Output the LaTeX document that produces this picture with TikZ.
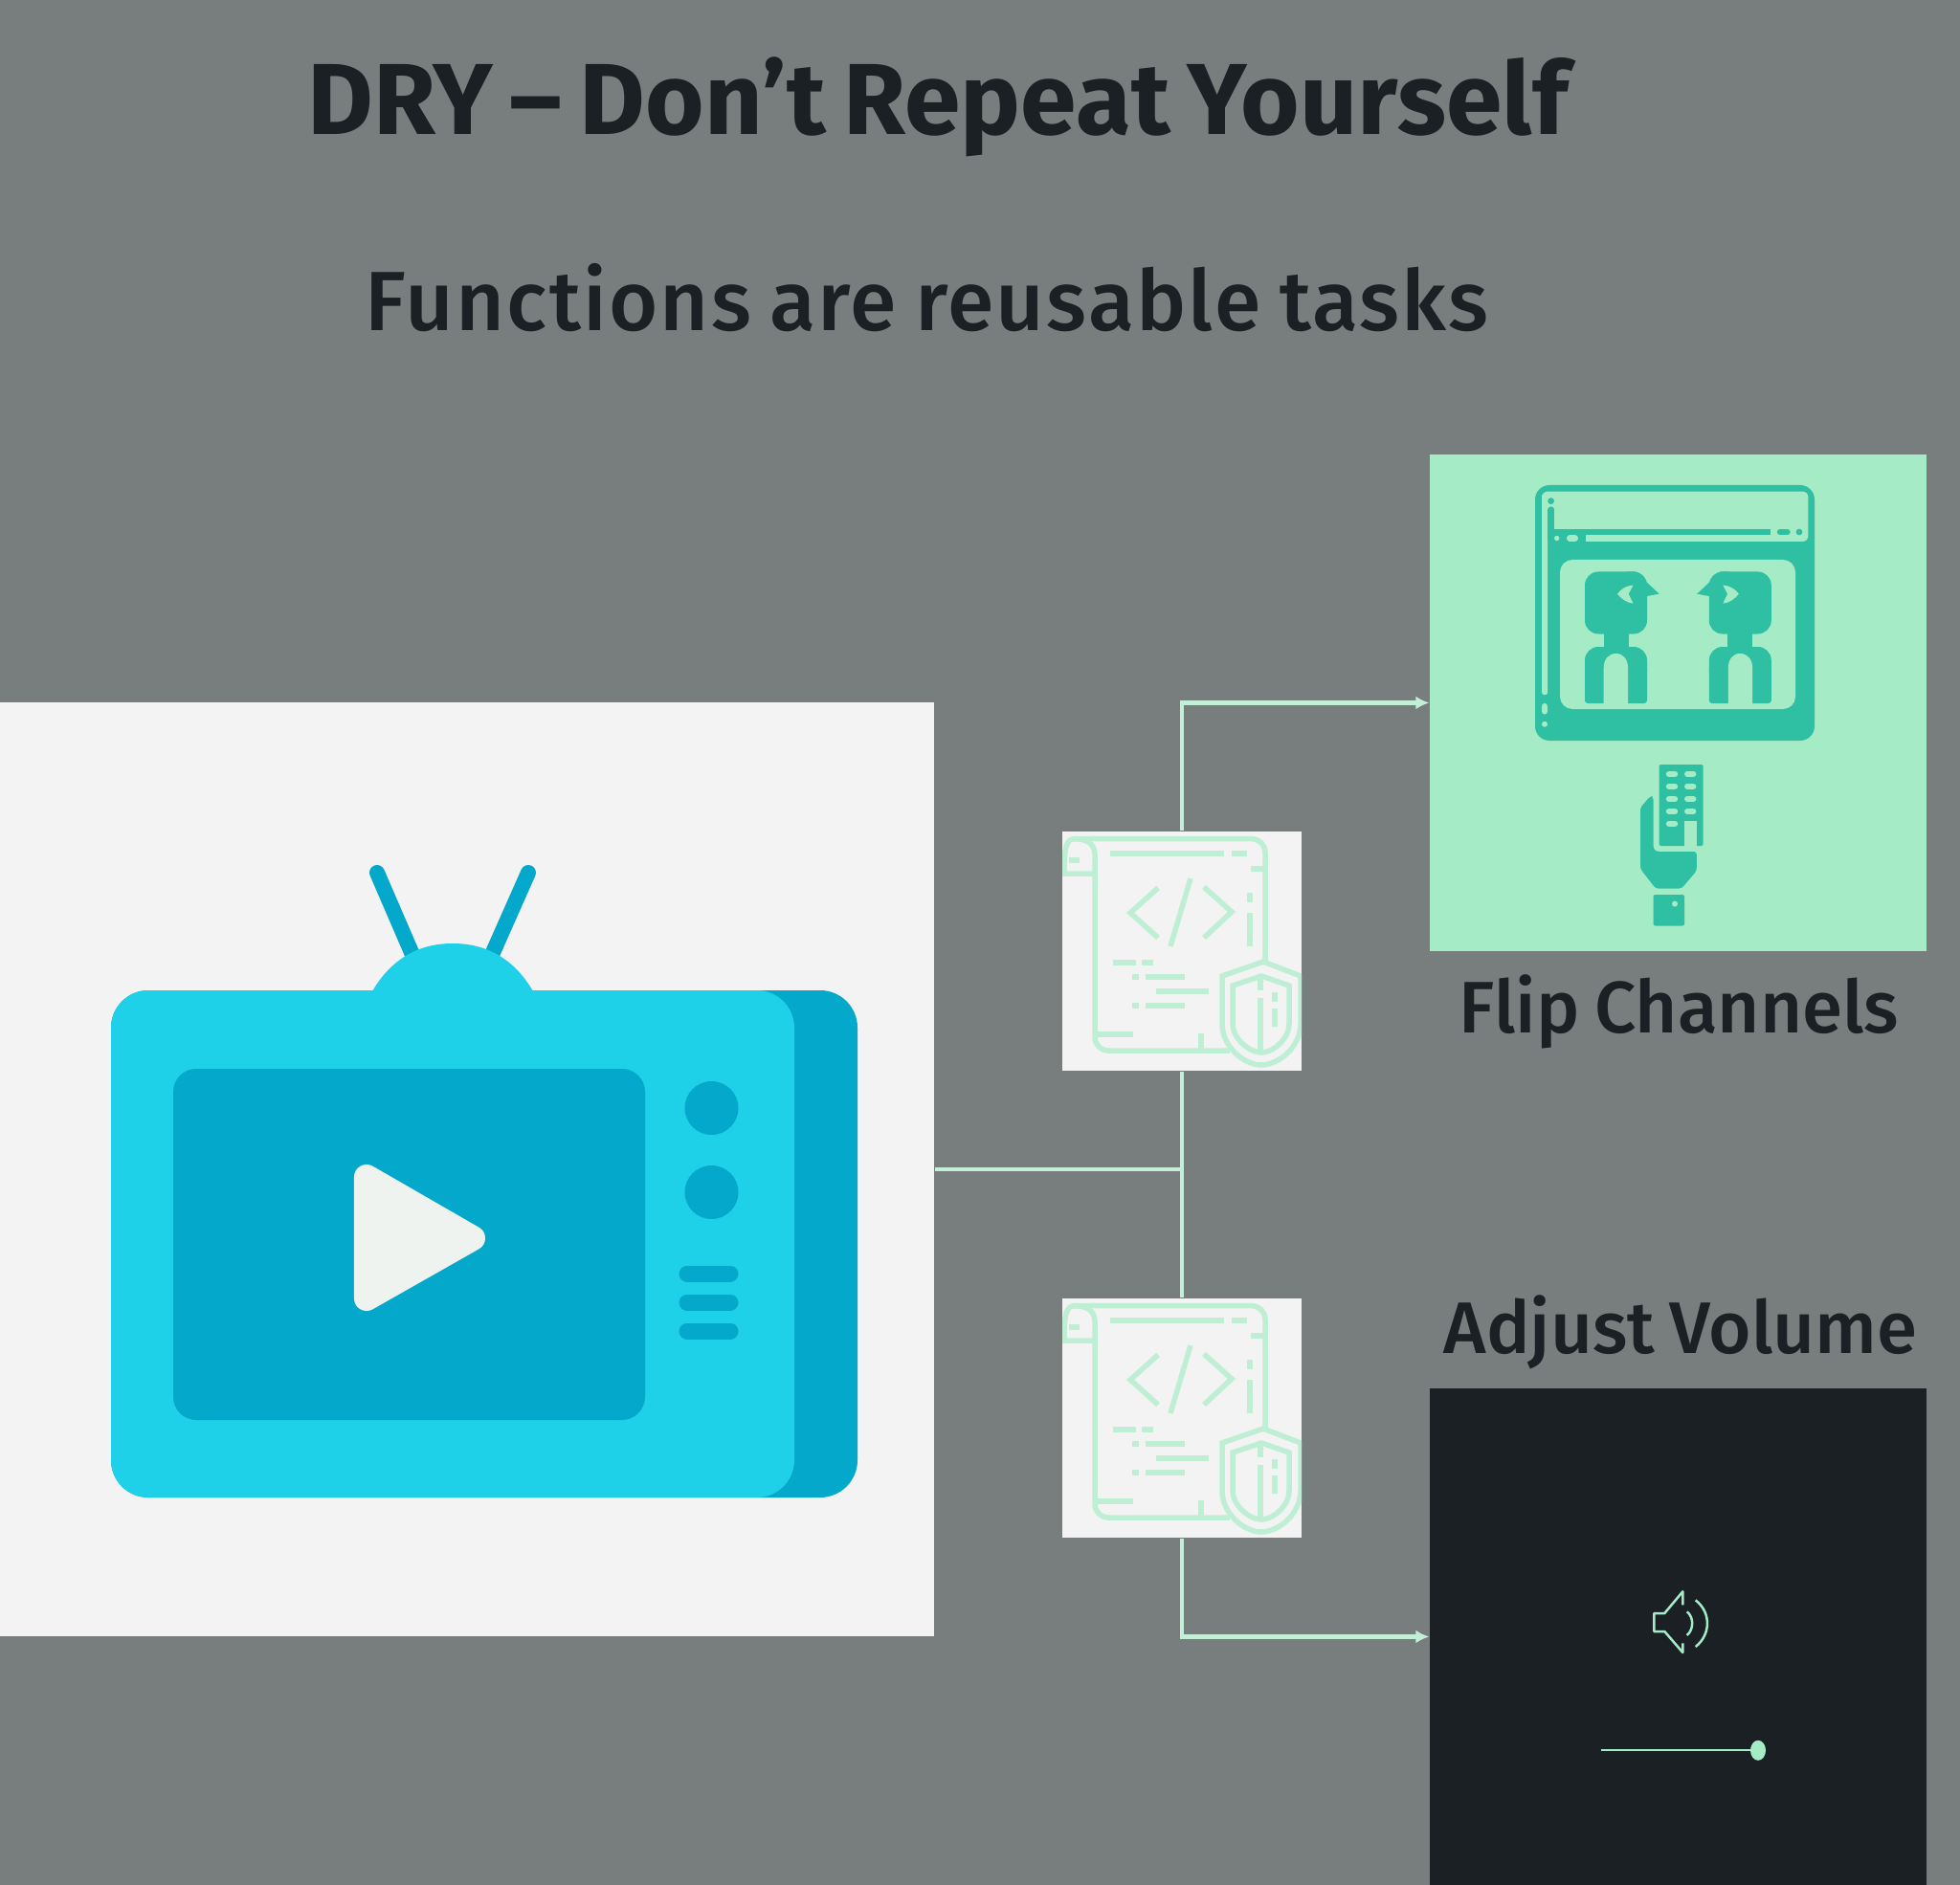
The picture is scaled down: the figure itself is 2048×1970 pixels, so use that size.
\documentclass[tikz,border=0pt]{standalone}
\usepackage{fontspec}
\setmainfont{Fira Sans}
\newfontfamily\titlefont[WordSpace=0.7,LetterSpace=0.2]{Fira Sans}
\newfontfamily\subfont[WordSpace=0.8,LetterSpace=2.5]{Fira Sans Medium}
\newfontfamily\labelfont[WordSpace=0.8]{Fira Sans Medium}
\usetikzlibrary{arrows.meta}
\definecolor{slategrey}{HTML}{787E7E}
\definecolor{paper}{HTML}{F3F3F3}
\definecolor{ink}{HTML}{1B2025}
\definecolor{mint}{HTML}{A5EBC5}
\definecolor{wire}{HTML}{C3EFD8}
\definecolor{sheetline}{HTML}{BEEFD5}
\definecolor{teal}{HTML}{2FC0A3}
\definecolor{skyfront}{HTML}{1ED0E8}
\definecolor{skyback}{HTML}{03A8CB}
\definecolor{playwhite}{HTML}{EEF3EF}
\tikzset{
	panel/.style={inner sep=0pt,minimum width=#1*0.01cm,minimum height=#1*0.01cm},
	wireline/.style={wire,line width=0.042cm},
	headline/.style={anchor=base west,inner sep=0pt,text=ink},
	sheetstroke/.style={sheetline,line width=0.055cm},
	slit/.style={skyback,line width=0.17cm,line cap=round},
	antenna/.style={skyback,line width=0.16cm,line cap=round},
	hole/.style={mint,line cap=round}
}
\begin{document}
\begin{tikzpicture}[x=0.01cm,y=-0.01cm]
	\useasboundingbox (0,0) rectangle (2048,1970);
	\fill[slategrey] (0,0) rectangle (2048,1970);
	% headings
	\node[headline] (title) at (321,141) {\titlefont\fontsize{30}{36}\selectfont\bfseries DRY – Don’t Repeat Yourself};
	\node[headline] (subtitle) at (381,346) {\subfont\fontsize{25}{30}\selectfont Functions are reusable tasks};
	% panels
	\node[panel=976,fill=paper] (tvbox) at (488,1222) {};
	\node[panel=250,fill=paper] (codeA) at (1235,994) {};
	\node[panel=250,fill=paper] (codeB) at (1235,1482) {};
	\node[panel=519,fill=mint] (flipbox) at (1753.5,734.5) {};
	\node[panel=519,fill=ink] (volbox) at (1753.5,1710.5) {};
	\node[headline] (fliptext) at (1524,1079) {\labelfont\fontsize{21.7}{28}\selectfont Flip Channels};
	\node[headline] (voltext) at (1508,1414) {\labelfont\fontsize{21.7}{28}\selectfont Adjust Volume};
	% connectors
	\coordinate (hub) at (codeA |- tvbox);
	\draw[wireline] (tvbox.east) -- (hub);
	\draw[wireline] (codeA) -- (codeB);
	\draw[wireline,-{Latex[length=0.14cm,width=0.14cm]}] (codeA.north) |- (flipbox.west);
	\draw[wireline,-{Latex[length=0.14cm,width=0.14cm]}] (codeB.south) |- (volbox.west);
	% tv set
	\fill[skyback,rounded corners=0.39cm] (116,1035) rectangle (896,1565);
	\fill[skyfront,rounded corners=0.39cm] (116,1035) rectangle (830,1565);
	\draw[antenna] (394,912) -- (432,1000);
	\draw[antenna] (552,912) -- (513,1000);
	\fill[skyfront] (389,1036) .. controls (410,1000) and (440,986) .. (473,986) .. controls (506,986) and (536,1000) .. (557,1036) -- cycle;
	\fill[skyback,rounded corners=0.24cm] (181,1117) rectangle (674,1484);
	\fill[skyback] (743.5,1158) circle[x radius=28,y radius=28];
	\fill[skyback] (743.5,1246) circle[x radius=28,y radius=28];
	\foreach \ypos in {1331,1361,1391}
		\draw[slit] (718,\ypos) -- (763,\ypos);
	\draw[playwhite,fill=playwhite,line width=0.26cm,line join=round] (383,1230) -- (494,1294) -- (383,1357) -- cycle;
	% code sheets
	\foreach \ypos in {869,1357}{
		\begin{scope}[shift={(1110,\ypos)}]
			\clip (0,0) rectangle (250,250);
			\draw[sheetstroke,rounded corners=0.14cm] (34,44) -- (34,229) -- (175,229);
			\draw[sheetstroke,rounded corners=0.14cm] (13,7.7) -- (212,7.7) -- (212,136);
			\draw[sheetstroke] (0,44) -- (34,44) -- (34,24) .. controls (34,12) and (24,7.7) .. (13,7.7) .. controls (4,7.7) and (2,16) .. (2,44);
			\draw[sheetstroke] (7,30) -- (18,30);
			\draw[sheetstroke] (50,23) -- (169,23);
			\draw[sheetstroke] (177,23) -- (193,23);
			\draw[sheetstroke] (197,39) -- (212,39);
			\draw[sheetstroke] (37,212) -- (74,212);
			\draw[sheetstroke] (145,211) -- (145,229);
			\draw[sheetstroke] (100,59) -- (71,85) -- (100,111);
			\draw[sheetstroke] (134,49) -- (113,120);
			\draw[sheetstroke] (148,58) -- (177,84) -- (148,111);
			\draw[sheetstroke] (196,64) -- (196,74);
			\draw[sheetstroke] (196,85) -- (196,120);
			\draw[sheetstroke] (53,137) -- (77,137);
			\draw[sheetstroke] (83,137) -- (95,137);
			\draw[sheetstroke] (73,152) -- (80,152);
			\draw[sheetstroke] (87,152) -- (128,152);
			\draw[sheetstroke] (98,167) -- (153,167);
			\draw[sheetstroke] (73,182) -- (80,182);
			\draw[sheetstroke] (87,182) -- (128,182);
			% shield
			\draw[sheetstroke] (210,136) -- (167,151) -- (167,201) .. controls (167,225) and (190,244) .. (208,244) .. controls (226,244) and (249,225) .. (249,201) -- (249,151) -- cycle;
			\draw[sheetstroke] (208,151) -- (178,161) -- (178,201) .. controls (178,216) and (195,231) .. (208,231) .. controls (221,231) and (237,216) .. (237,201) -- (237,161) -- cycle;
			\draw[sheetstroke] (207,151) -- (207,166);
			\draw[sheetstroke] (207,174) -- (207,229);
			\draw[sheetstroke] (222,168) -- (222,178);
			\draw[sheetstroke] (222,185) -- (222,204);
		\end{scope}
	}
	% browser window
	\fill[teal,rounded corners=0.15cm] (1604,507) rectangle (1896,774);
	\fill[mint,rounded corners=0.06cm] (1611.2,513.6) rectangle (1889.4,566);
	\fill[mint,rounded corners=0.02cm] (1611.2,516) rectangle (1617,726);
	\fill[teal] (1617,533) rectangle (1624.2,566);
	\fill[teal] (1617,552.9) rectangle (1850.3,559.3);
	\fill[teal] (1617,559.3) rectangle (1656.8,566);
	\fill[teal] (1620.6,523.6) circle[x radius=3.4,y radius=3.4];
	\fill[teal] (1620.6,533) circle[x radius=3.6,y radius=3.6];
	\draw[teal,line width=0.064cm,line cap=round] (1860,556) -- (1867.5,556);
	\fill[teal] (1880,556) circle[x radius=3.4,y radius=3.4];
	\fill[mint] (1626.7,562.5) circle[x radius=2.7,y radius=2.7];
	\draw[hole,line width=0.06cm] (1640,562.5) -- (1646,562.5);
	\draw[hole,line width=0.06cm] (1614,738) -- (1614,743.5);
	\fill[mint] (1614,756.8) circle[x radius=3,y radius=3];
	\fill[mint,rounded corners=0.13cm] (1630,585) rectangle (1876,741);
	% viewers
	\foreach \mirror/\flipx in {1/0,-1/3506.8}{
		\begin{scope}[xshift=\flipx*0.01cm,xscale=\mirror]
			\fill[teal,rounded corners=0.14cm] (1656,597.5) rectangle (1721,662.5);
			\fill[teal] (1700,597.5) -- (1709,597.5) -- (1733.6,620.7) -- (1721,623) -- (1700,640) -- cycle;
			\fill[teal] (1675.7,655) rectangle (1701.7,682);
			\fill[teal,rounded corners=0.14cm] (1656,676) rectangle (1721,715);
			\fill[teal,rounded corners=0.03cm] (1656,695) rectangle (1721,735);
			\fill[mint] (1675.7,736) -- (1675.7,698) .. controls (1675.7,689) and (1681,683) .. (1688.5,683) .. controls (1696,683) and (1701,689) .. (1701,698) -- (1701,736) -- cycle;
			\fill[mint] (1690,620.7) .. controls (1694,615) and (1700,612) .. (1706.5,611.6) -- (1701.7,620.7) -- (1706.5,630.7) .. controls (1700,630) and (1694,626) .. (1690,620.7) -- cycle;
		\end{scope}
	}
	% remote and hand
	\fill[teal,rounded corners=0.02cm] (1733.6,799) rectangle (1779.6,884);
	\fill[mint] (1760,884.5) -- (1760,857.5) -- (1772.8,857.5) -- (1772.8,884.5) -- cycle;
	\foreach \ypos in {809,821.8,835,847.9}{
		\draw[hole,line width=0.064cm] (1744,\ypos) -- (1750,\ypos);
		\draw[hole,line width=0.064cm] (1763.2,\ypos) -- (1769.2,\ypos);
	}
	\draw[hole,line width=0.064cm] (1744,860.7) -- (1750,860.7);
	\fill[teal,rounded corners=0.03cm] (1714,844) -- (1724.6,831.8) -- (1727.5,833) -- (1727.5,887) -- (1730.7,890) -- (1772.8,890) -- (1772.8,910) -- (1757,928.6) -- (1730,928.6) -- (1714,908) -- cycle;
	\fill[teal,rounded corners=0.02cm] (1727.5,935) rectangle (1760,967.5);
	\fill[mint] (1750,944.6) circle[x radius=3,y radius=3];
	% speaker and slider
	\draw[mint,line width=0.025cm,line join=round] (1758.3,1677.3) -- (1758.3,1663.3) -- (1739.3,1686) -- (1728.3,1686) -- (1728.3,1705) -- (1739.3,1705) -- (1758.3,1727) -- (1758.3,1717.3);
	\draw[mint,line width=0.025cm] (1762.7,1684.3) .. controls (1770,1690) and (1770,1703) .. (1762.7,1709);
	\draw[mint,line width=0.025cm] (1771.7,1672.3) .. controls (1788,1685) and (1788,1708) .. (1771.7,1721);
	\draw[mint,line width=0.02cm] (1672.7,1829.3) -- (1830,1829.3);
	\fill[mint] (1837,1829.3) circle[x radius=8,y radius=10.5];
\end{tikzpicture}
\end{document}
